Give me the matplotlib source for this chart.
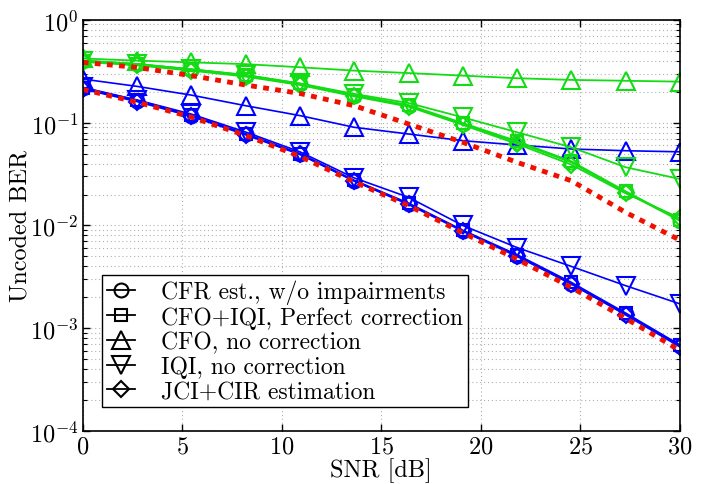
import numpy as np
import matplotlib
matplotlib.use('Agg')
import matplotlib.pyplot as plt
from matplotlib.ticker import LogLocator, NullFormatter

plt.rcParams['font.family'] = 'serif'
plt.rcParams['font.serif'] = ['cmr10', 'DejaVu Serif']
plt.rcParams['mathtext.fontset'] = 'cm'
plt.rcParams['axes.formatter.use_mathtext'] = True

snr = [0, 2.727, 5.455, 8.182, 10.909, 13.636, 16.364, 19.091, 21.818, 24.545, 27.273, 30]

# blue set
b_cfr = [0.215, 0.163, 0.117, 0.0775, 0.0495, 0.0272, 0.0162, 0.0089, 0.0051, 0.0027, 0.00138, 0.00068]
b_perf = [0.218, 0.165, 0.118, 0.078, 0.050, 0.0275, 0.0165, 0.0090, 0.0052, 0.0028, 0.00141, 0.00069]
b_cfo = [0.265, 0.225, 0.185, 0.146, 0.117, 0.090, 0.0775, 0.0667, 0.0606, 0.0554, 0.0533, 0.052]
b_iqi = [0.22, 0.166, 0.121, 0.081, 0.052, 0.029, 0.0188, 0.0100, 0.0061, 0.0040, 0.0026, 0.00173]
b_jci = [0.212, 0.160, 0.115, 0.076, 0.049, 0.027, 0.016, 0.0088, 0.0050, 0.0027, 0.00135, 0.00066]

# green set
g_cfr = [0.40, 0.37, 0.327, 0.286, 0.237, 0.183, 0.146, 0.097, 0.0643, 0.041, 0.021, 0.0111]
g_perf = [0.40, 0.372, 0.33, 0.29, 0.24, 0.186, 0.148, 0.099, 0.066, 0.042, 0.0215, 0.0113]
g_cfo = [0.42, 0.40, 0.385, 0.37, 0.345, 0.32, 0.303, 0.286, 0.27, 0.26, 0.255, 0.25]
g_iqi = [0.40, 0.37, 0.33, 0.29, 0.24, 0.19, 0.155, 0.1125, 0.0805, 0.0575, 0.0368, 0.0283]
g_jci = [0.39, 0.36, 0.32, 0.28, 0.232, 0.18, 0.143, 0.095, 0.062, 0.039, 0.0205, 0.0118]

# red dotted references
r_low = [0.21, 0.158, 0.113, 0.075, 0.047, 0.0265, 0.0156, 0.0085, 0.0047, 0.0025, 0.00125, 0.00061]
r_high = [0.385, 0.344, 0.286, 0.232, 0.192, 0.146, 0.097, 0.0643, 0.0411, 0.0272, 0.0134, 0.0072]

labels = ['CFR est., w/o impairments', 'CFO+IQI, Perfect correction',
          'CFO, no correction', 'IQI, no correction', 'JCI+CIR estimation']
markers = ['o', 's', '^', 'v', 'D']
msizes = [10, 9, 12.5, 12.5, 8.5]

blue = '#0000ff'
green = '#14dc14'
red = '#f01000'

fig = plt.figure(figsize=(7.13, 4.85), dpi=100)
ax = fig.add_axes([0.116, 0.1087, 0.8377, 0.8486])

for ys, m, ms in zip([b_cfr, b_perf, b_cfo, b_iqi, b_jci], markers, msizes):
    ax.semilogy(snr, ys, color=blue, marker=m, ms=ms, mfc='none', mew=1.5, lw=1.2)
for ys, m, ms in zip([g_cfr, g_perf, g_cfo, g_iqi, g_jci], markers, msizes):
    ax.semilogy(snr, ys, color=green, marker=m, ms=ms, mfc='none', mew=1.5, lw=1.3)
for ys in [r_low, r_high]:
    ln, = ax.semilogy(snr, ys, color=red, lw=3.5)
    ln.set_dashes((1.2, 1.3))
    ln.set_dash_capstyle('butt')

# black legend proxies
handles = []
for lab, m, ms in zip(labels, markers, msizes):
    h, = ax.plot([], [], color='k', marker=m, ms=ms, mfc='none', mew=1.5, lw=1.3, label=lab)
    handles.append(h)
leg = ax.legend(handles=handles, loc='lower left', bbox_to_anchor=(0.032, 0.058),
                fontsize=17, fancybox=False, framealpha=1, edgecolor='k',
                handlelength=1.2, handletextpad=1.1, labelspacing=0.1,
                borderpad=0.2, borderaxespad=0)
leg.get_frame().set_linewidth(1.0)

ax.set_xlim(0, 30)
ax.set_ylim(1e-4, 1)
ax.set_xticks([0, 5, 10, 15, 20, 25, 30])
ax.yaxis.set_major_locator(LogLocator(base=10, numticks=10))
ax.yaxis.set_minor_locator(LogLocator(base=10, subs=np.arange(2, 10), numticks=10))
ax.yaxis.set_minor_formatter(NullFormatter())

ax.grid(True, which='major', linestyle=(0, (1, 2.5)), color='#b0b0b0', lw=0.8)
ax.grid(True, which='minor', axis='y', linestyle=(0, (1, 2.5)), color='#b0b0b0', lw=0.8)
ax.tick_params(which='both', direction='in', top=True, right=True, labelsize=17.5, pad=3)
ax.tick_params(which='major', length=5, width=1)
ax.tick_params(which='minor', length=3, width=0.8)
for s in ax.spines.values():
    s.set_linewidth(1.2)

ax.set_xlabel('SNR [dB]', fontsize=17.5, labelpad=0)
ax.set_ylabel('Uncoded BER', fontsize=17.5, labelpad=-1)

fig.savefig('out.png', dpi=100)
